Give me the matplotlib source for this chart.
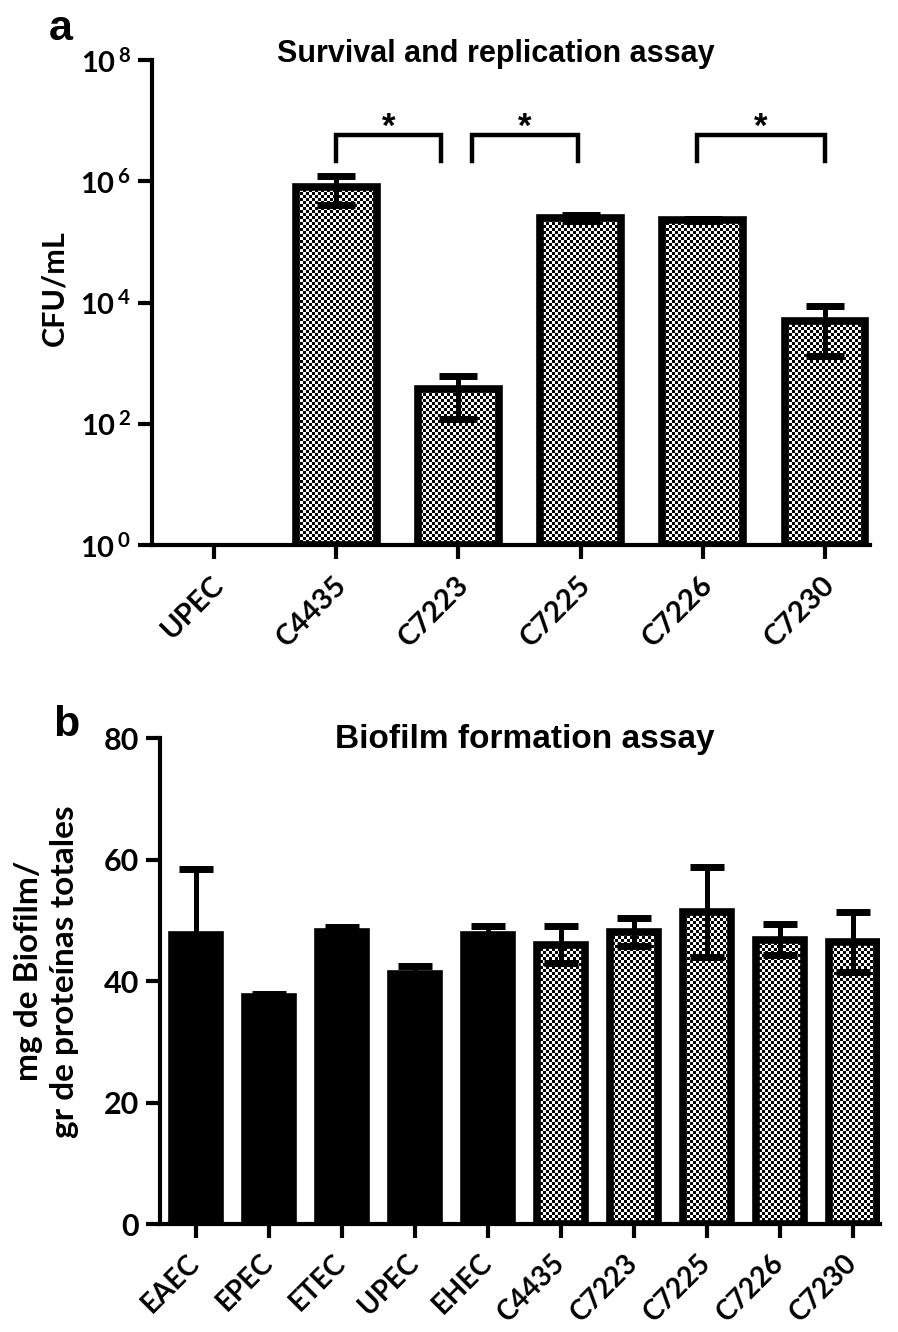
import numpy as np
import matplotlib
matplotlib.use('Agg')
import matplotlib.pyplot as plt
import matplotlib.transforms as mtransforms

plt.rcParams['font.family'] = ['Lato', 'DejaVu Sans']
plt.rcParams['font.weight'] = 'bold'
plt.rcParams['mathtext.fontset'] = 'custom'
plt.rcParams['mathtext.rm'] = 'Lato:bold'
plt.rcParams['mathtext.bf'] = 'Lato:bold'

# panel a data
strains_a = ['UPEC', 'C4435', 'C7223', 'C7225', 'C7226', 'C7230']
cfu_mean = [0, 8.0e5, 370, 2.5e5, 2.3e5, 5000]
cfu_sd = [0, 4.0e5, 250, 3.0e4, 6.0e3, 3700]
sig_pairs = [(1, 2), (2, 3), (4, 5)]

# panel b data
strains_b = ['EAEC', 'EPEC', 'ETEC', 'UPEC', 'EHEC', 'C4435', 'C7223', 'C7225', 'C7226', 'C7230']
biofilm_mean = [47.6, 37.4, 48.0, 41.1, 47.5, 46.0, 48.1, 51.3, 46.8, 46.4]
biofilm_sd = [10.9, 0.5, 0.9, 1.4, 1.6, 3.0, 2.3, 7.4, 2.6, 5.0]
is_clinical = [False] * 5 + [True] * 5

W, H = 898, 1332
fig = plt.figure(figsize=(W / 100, H / 100), dpi=100)

# checkerboard texture in pixel space
cell = 3
yy, xx = np.mgrid[0:H, 0:W]
checker = ((yy // cell + xx // cell) % 2).astype(float)
checker = np.dstack([checker] * 3)

EDGE = 5.5
BW = 0.66


def style_axes(ax):
    ax.patch.set_visible(False)
    for s in ['top', 'right']:
        ax.spines[s].set_visible(False)
    for s in ['left', 'bottom']:
        ax.spines[s].set_linewidth(3)
    ax.tick_params(width=3, length=10, direction='out', pad=5)
    ax.tick_params(axis='y', which='minor', length=0)


def bold_ticks(ax):
    for lbl in ax.get_xticklabels() + ax.get_yticklabels():
        lbl.set_fontweight('bold')


def checker_fill(bars):
    for b in bars:
        im = fig.figimage(checker, xo=0, yo=0, zorder=-1, origin='upper')
        im.set_clip_path(b)


# ---------------- panel a ----------------
ax1 = fig.add_axes([152 / W, 1 - 545 / H, (870 - 152) / W, 485 / H])
style_axes(ax1)
ax1.set_yscale('log')
ax1.set_ylim(1, 1e8)
ax1.set_xlim(-0.51, 5.37)
xa = np.arange(len(strains_a))
vals = np.array(cfu_mean, dtype=float)
sds = np.array(cfu_sd, dtype=float)
has = vals > 0
bars1 = ax1.bar(xa[has], vals[has], width=BW, bottom=1, facecolor='none',
                edgecolor='k', linewidth=EDGE, zorder=3)
checker_fill(bars1)
ax1.errorbar(xa[has], vals[has], yerr=sds[has], fmt='none', ecolor='k',
             elinewidth=3.6, capsize=14, capthick=5, zorder=4)
ax1.set_yticks([1, 1e2, 1e4, 1e6, 1e8])
ax1.set_yticklabels([r'$\mathbf{10^{\,%d}}$' % e for e in [0, 2, 4, 6, 8]], fontsize=21)
ax1.set_xticks(xa)
ax1.set_xticklabels(strains_a, rotation=45, ha='right', va='center',
                    rotation_mode='anchor', fontsize=21)
ax1.tick_params(axis='x', pad=16)
shift = mtransforms.ScaledTranslation(6 / 100, 0, fig.dpi_scale_trans)
for lbl in ax1.get_xticklabels():
    lbl.set_transform(lbl.get_transform() + shift)
bold_ticks(ax1)
ax1.set_ylabel('CFU/mL', fontsize=22, fontweight='bold')
ax1.yaxis.set_label_coords(-0.116, 0.53)

offs = [(0.0, -0.14), (0.11, -0.02), (-0.05, 0.0)]
for (i, j), (oi, oj) in zip(sig_pairs, offs):
    x0, x1 = i + oi, j + oj
    ax1.plot([x0, x0, x1, x1], [10**6.34, 10**6.77, 10**6.77, 10**6.34],
             color='k', lw=3.2, solid_joinstyle='miter', clip_on=False)
    ax1.text((x0 + x1) / 2, 10**6.74, '*', ha='center', va='baseline', fontsize=25,
             family='Liberation Sans', fontweight='bold')

fig.text(496 / W, 1 - 62 / H, 'Survival and replication assay', family='Liberation Sans',
         fontweight='bold', fontsize=22, ha='center', va='baseline')
fig.text(49 / W, 1 - 40 / H, 'a', family='Liberation Sans', fontweight='bold',
         fontsize=31, ha='left', va='baseline')

# ---------------- panel b ----------------
ax2 = fig.add_axes([160 / W, 1 - 1224 / H, (880 - 160) / W, 486 / H])
style_axes(ax2)
ax2.set_ylim(0, 80)
ax2.set_xlim(-0.49, 9.37)
xb = np.arange(len(strains_b))
clin = np.array(is_clinical)
bm = np.array(biofilm_mean)
bars_solid = ax2.bar(xb[~clin], bm[~clin], width=BW, color='k', edgecolor='k',
                     linewidth=EDGE, zorder=3)
bars_chk = ax2.bar(xb[clin], bm[clin], width=BW, facecolor='none', edgecolor='k',
                   linewidth=EDGE, zorder=3)
checker_fill(bars_chk)
ax2.errorbar(xb, bm, yerr=biofilm_sd, fmt='none', ecolor='k',
             elinewidth=3.6, capsize=12, capthick=5, zorder=4)
ax2.set_yticks([0, 20, 40, 60, 80])
ax2.tick_params(axis='y', labelsize=22)
ax2.set_xticks(xb)
ax2.set_xticklabels(strains_b, rotation=45, ha='right', va='center',
                    rotation_mode='anchor', fontsize=20)
ax2.tick_params(axis='x', pad=15)
bold_ticks(ax2)
ax2.set_ylabel('mg de Biofilm/\ngr de proteínas totales', fontsize=24, fontweight='bold',
               linespacing=1.3)
ax2.yaxis.set_label_coords(-0.112, 0.52)

fig.text(525 / W, 1 - 748 / H, 'Biofilm formation assay', family='Liberation Sans',
         fontweight='bold', fontsize=24, ha='center', va='baseline')
fig.text(53 / W, 1 - 736 / H, 'b', family='Liberation Sans', fontweight='bold',
         fontsize=31, ha='left', va='baseline')

fig.savefig('out.png', dpi=100)
